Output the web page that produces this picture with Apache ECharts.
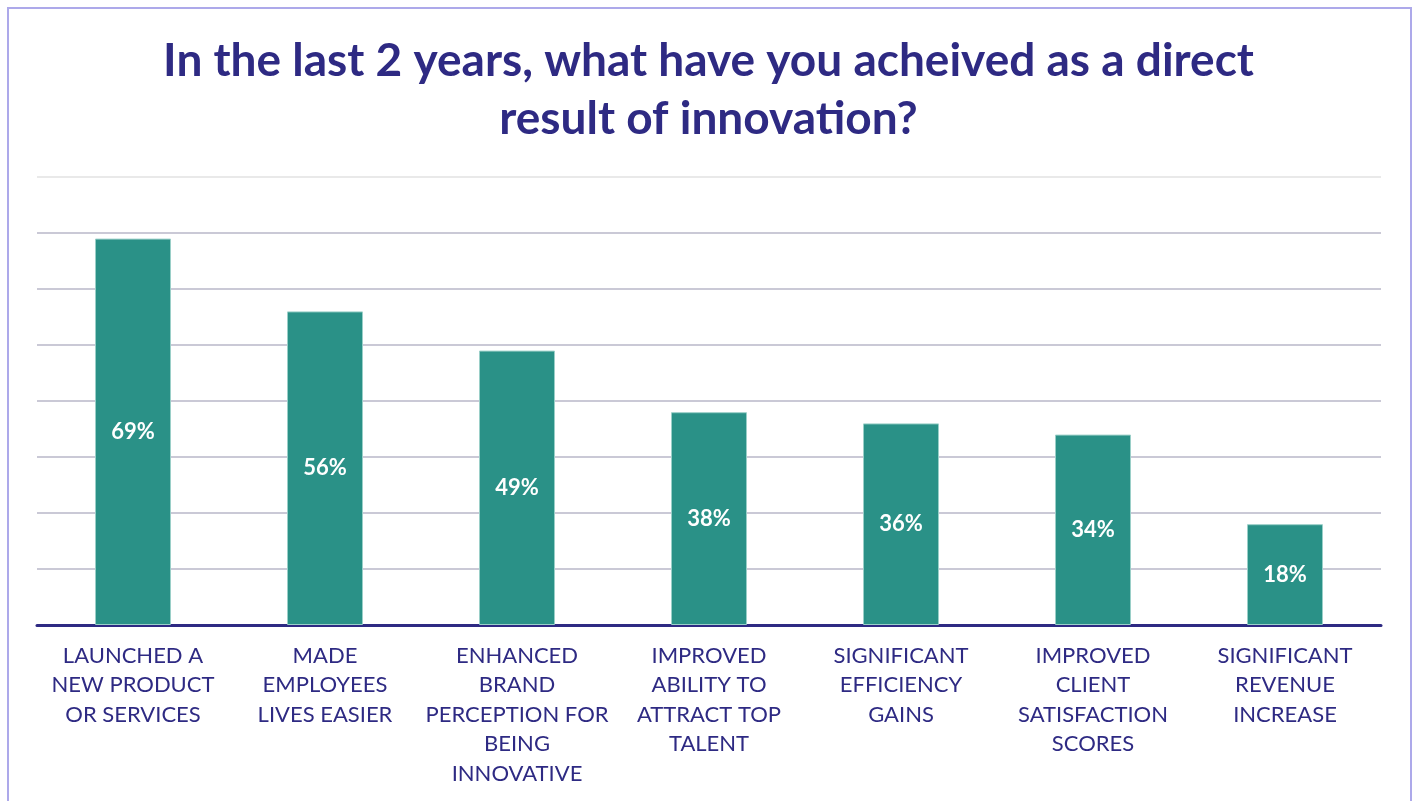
<!DOCTYPE html>
<html>
<head>
<meta charset="utf-8">
<script src="https://cdn.jsdelivr.net/npm/echarts@6/dist/echarts.min.js"></script>
<style>
  html, body { margin: 0; padding: 0; background: #ffffff; }
  #chart { width: 1417px; height: 801px; }
</style>
</head>
<body>
<div id="chart"></div>
<script>
const titleText = 'In the last 2 years, what have you acheived as a direct\nresult of innovation?';
const categories = [
  'LAUNCHED A\nNEW PRODUCT\nOR SERVICES',
  'MADE\nEMPLOYEES\nLIVES EASIER',
  'ENHANCED\nBRAND\nPERCEPTION FOR\nBEING\nINNOVATIVE',
  'IMPROVED\nABILITY TO\nATTRACT TOP\nTALENT',
  'SIGNIFICANT\nEFFICIENCY\nGAINS',
  'IMPROVED\nCLIENT\nSATISFACTION\nSCORES',
  'SIGNIFICANT\nREVENUE\nINCREASE'
];
const values = [69, 56, 49, 38, 36, 34, 18];

const chart = echarts.init(document.getElementById('chart'));
chart.setOption({
  backgroundColor: '#ffffff',
  animation: false,
  graphic: [{
    type: 'rect',
    shape: { x: 8, y: 8, width: 1403, height: 830 },
    style: { fill: 'none', stroke: '#ADA9EA', lineWidth: 2 },
    silent: true
  }],
  title: {
    text: titleText,
    left: 'center',
    top: 27,
    textStyle: {
      fontFamily: 'Lato',
      fontWeight: 'bold',
      fontSize: 46,
      lineHeight: 58,
      color: '#2E2A83'
    }
  },
  grid: { left: 37, right: 36, top: 177, bottom: 176, containLabel: false },
  xAxis: {
    type: 'category',
    data: categories,
    axisTick: { show: false },
    axisLine: { lineStyle: { color: '#2E2A83', width: 3 } },
    axisLabel: {
      interval: 0,
      margin: 16,
      fontFamily: 'Lato',
      fontSize: 22,
      lineHeight: 29.5,
      color: '#2E2A83',
      align: 'center'
    }
  },
  yAxis: {
    type: 'value',
    min: 0,
    max: 80,
    interval: 10,
    axisLabel: { show: false },
    axisLine: { show: false },
    axisTick: { show: false },
    splitLine: {
      lineStyle: {
        color: ['#B9B7C8', '#B9B7C8', '#B9B7C8', '#B9B7C8', '#B9B7C8', '#B9B7C8', '#B9B7C8', '#B9B7C8', '#E2E2E2'],
        width: 1.5
      }
    }
  },
  series: [{
    type: 'bar',
    data: values,
    barWidth: 76,
    itemStyle: { color: '#2A9187', borderColor: '#9ACFC8', borderWidth: 1 },
    label: {
      show: true,
      position: 'inside',
      formatter: '{c}%',
      color: '#ffffff',
      fontFamily: 'Lato',
      fontWeight: 'bold',
      fontSize: 22
    }
  }]
});
</script>
</body>
</html>
